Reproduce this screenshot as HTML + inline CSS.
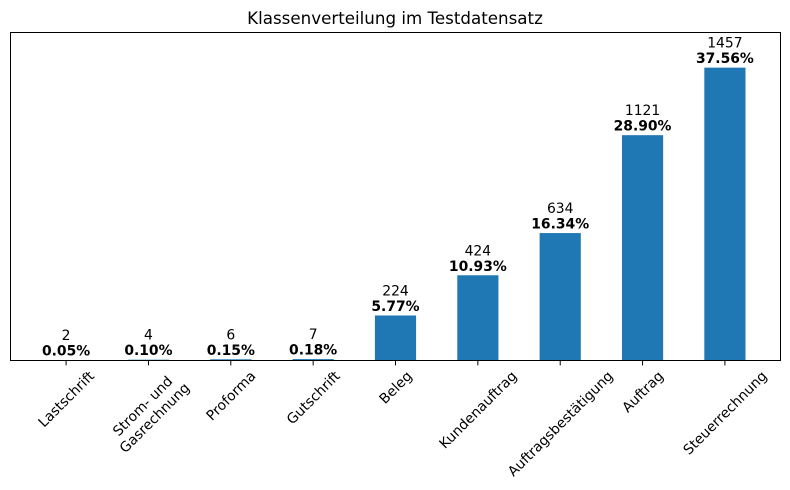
<!DOCTYPE html>
<html><head><meta charset="utf-8"><style>
html,body{margin:0;padding:0;background:#fff;}
svg{display:block;font-family:"DejaVu Sans","Liberation Sans",sans-serif;}
</style></head><body>
<svg id="chart" width="790" height="490" viewBox="0 0 790 490">
<rect x="0" y="0" width="790" height="490" fill="#fff"/>
<text x="395" y="24" text-anchor="middle" font-size="16.7" fill="#000">Klassenverteilung im Testdatensatz</text>
<g id="bars"></g>
<g id="labels"></g>
<rect x="10.5" y="32.5" width="770" height="328" fill="none" stroke="#000" stroke-width="1"/>
</svg>
<script>
var categories = [["Lastschrift"],["Strom- und","Gasrechnung"],["Proforma"],["Gutschrift"],["Beleg"],["Kundenauftrag"],["Auftragsbestätigung"],["Auftrag"],["Steuerrechnung"]];
var counts = [2,4,6,7,224,424,634,1121,1457];
var percents = ["0.05%","0.10%","0.15%","0.18%","5.77%","10.93%","16.34%","28.90%","37.56%"];

var NS="http://www.w3.org/2000/svg";
var pLeft=10.5,pRight=780.5,pTop=32.5,pBottom=360.5;
var n=categories.length;
var x0=-0.675, x1=n-1+0.675;
function xs(i){return pLeft+(i-x0)/(x1-x0)*(pRight-pLeft);}
var ymax=Math.max.apply(null,counts)*1.12;
function ys(v){return pBottom-v/ymax*(pBottom-pTop);}
var bw=(pRight-pLeft)/(x1-x0)*0.5;
var gb=document.getElementById('bars'), gl=document.getElementById('labels');
function mk(tag,attrs,parent){var e=document.createElementNS(NS,tag);for(var k in attrs)e.setAttribute(k,attrs[k]);parent.appendChild(e);return e;}
for(var i=0;i<n;i++){
  var cx=xs(i), yt=ys(counts[i]);
  var r=mk('rect',{x:cx-bw/2,y:yt,width:bw,height:pBottom-yt,fill:'#1f77b4'},gb);
  
  
  var c=mk('text',{x:cx,y:yt-20,'text-anchor':'middle','font-size':'13.9',fill:'#000'},gl);
  c.textContent=String(counts[i]);
  
  
  var p=mk('text',{x:cx,y:yt-4.5,'text-anchor':'middle','font-size':'13.9','font-weight':'bold',fill:'#000'},gl);
  p.textContent=percents[i];
  
  
  var t=mk('line',{x1:cx,x2:cx,y1:pBottom,y2:pBottom+4.9,stroke:'#000','stroke-width':1},gl);
  
  
  var lines=categories[i];
  var fs=13.9, lh=fs*1.2;
  var g=mk('g',{},gl);
  
  
  var tx=mk('text',{'text-anchor':'middle','font-size':fs,fill:'#000'},g);
  var w=0;
  for(var k=0;k<lines.length;k++){
    var ts=mk('tspan',{x:0,y:(k-(lines.length-1)/2)*lh+fs*0.35},tx);
    ts.textContent=lines[k];
    var lw=lines[k].length*fs*0.58;
    try{var m=ts.getComputedTextLength();if(m>0)lw=m;}catch(e){}
    if(lw>w)w=lw;
  }
  var h=lines.length*lh;
  var half=(w+h)/(2*Math.SQRT2);
  g.setAttribute('transform','translate('+cx+','+(pBottom+7+half)+') rotate(-45)');
}
</script>
</body></html>
